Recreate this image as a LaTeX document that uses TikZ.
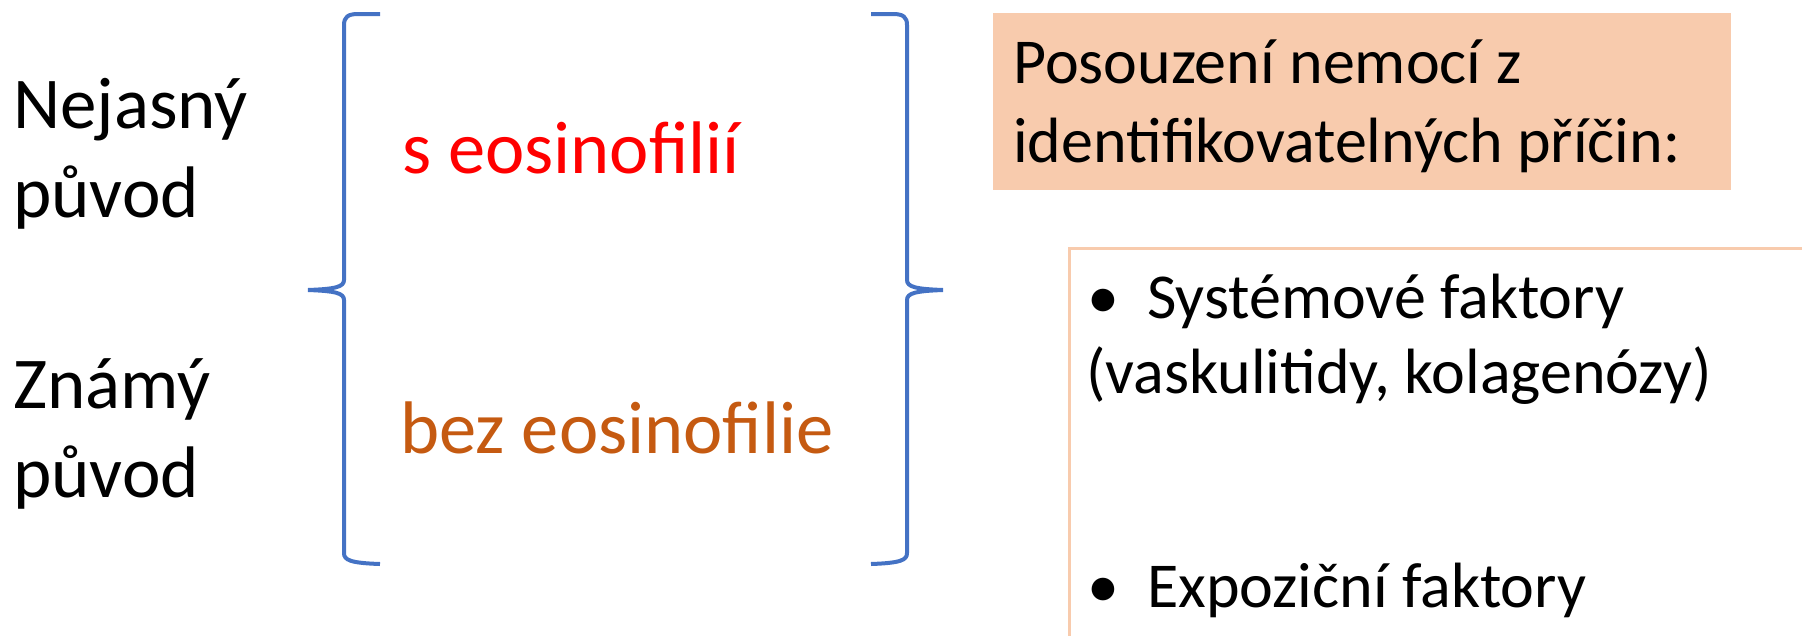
\documentclass[tikz,border=0pt]{standalone}
\usepackage{fontspec}
\setmainfont{Carlito}
\definecolor{bracecol}{HTML}{4472C4}
\definecolor{peach}{HTML}{F8CBAD}
\definecolor{rust}{HTML}{C55A11}
\begin{document}
\begin{tikzpicture}[x=1pt,y=-1pt,
  txt/.style={anchor=base west, inner sep=0pt, font=\fontsize{73}{89}\selectfont},
  midtxt/.style={anchor=base west, inner sep=0pt, font=\fontsize{74.5}{89}\selectfont},
  boxtxt/.style={anchor=base west, inner sep=0pt, font=\fontsize{64}{79}\selectfont},
  bracestyle/.style={draw=bracecol, line width=4pt, line cap=butt, line join=miter}]
\useasboundingbox (0,0) rectangle (1802,635);
% boxes
\node[fill=peach, draw=none, minimum width=738pt, minimum height=177pt, anchor=north west, inner sep=0pt] (box1) at (993,13) {};
\draw[peach, line width=3pt] (1069,640) -- (1069,248) -- (1810,248);
% left brace
\draw[bracestyle] (380,14) -- (358,14) .. controls (348,14) and (344,17) .. (344,25)
  -- (344,280) .. controls (344,287) and (335,289) .. (308,290)
  .. controls (335,291) and (344,293) .. (344,300)
  -- (344,553) .. controls (344,560) and (350,563) .. (380,564);
% right brace
\draw[bracestyle] (871,14) -- (893,14) .. controls (903,14) and (907,17) .. (907,25)
  -- (907,280) .. controls (907,287) and (916,289) .. (943,290)
  .. controls (916,291) and (907,293) .. (907,300)
  -- (907,553) .. controls (907,560) and (901,563) .. (871,564);
% left texts
\node[txt] (nej) at (13,128) {Nejasný};
\node[txt] (puv1) at (13,217) {původ};
\node[txt] (zn) at (13,408) {Známý};
\node[txt] (puv2) at (13,497) {původ};
% middle texts
\node[midtxt, text=red] (seos) at (402,173) {s eosinofilií};
\node[midtxt, text=rust] (bez) at (400,453) {bez eosinofilie};
% box texts
\node[boxtxt] (p1) at (1013,83) {Posouzení nemocí z};
\node[boxtxt] (p2) at (1013,162) {identifikovatelných příčin:};
\node[boxtxt] (b1) at (1087,318) {•};
\node[boxtxt] (s1) at (1147,318) {Systémové faktory};
\node[boxtxt] (s2) at (1086,393) {(vaskulitidy, kolagenózy)};
\node[boxtxt] (b2) at (1087,607) {•};
\node[boxtxt] (e1) at (1147,607) {Expoziční faktory};
\end{tikzpicture}
\end{document}
